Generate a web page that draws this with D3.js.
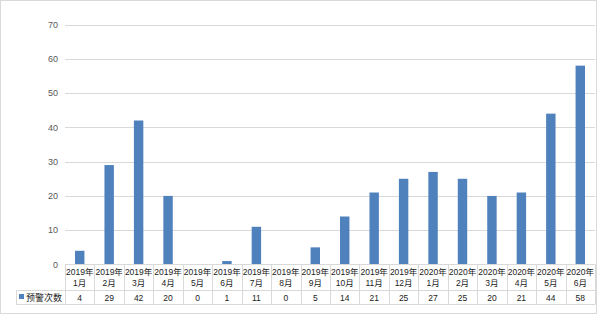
<!DOCTYPE html>
<html>
<head>
<meta charset="utf-8">
<script src="https://cdn.jsdelivr.net/npm/d3@7"></script>
<style>
  body { margin: 0; background: #fff; }
  svg text { font-family: "Liberation Sans", "Noto Sans CJK SC", sans-serif; }
</style>
</head>
<body>
<svg id="chart" width="598" height="315"></svg>
<script>
// data
const years = ['2019年','2019年','2019年','2019年','2019年','2019年','2019年','2019年','2019年','2019年','2019年','2019年','2020年','2020年','2020年','2020年','2020年','2020年'];
const months = ['1月','2月','3月','4月','5月','6月','7月','8月','9月','10月','11月','12月','1月','2月','3月','4月','5月','6月'];
const counts = [4, 29, 42, 20, 0, 1, 11, 0, 5, 14, 21, 25, 27, 25, 20, 21, 44, 58];
const seriesName = '预警次数';
const yTicks = [0, 10, 20, 30, 40, 50, 60, 70];

const svg = d3.select('#chart');
const plotLeft = 65, plotRight = 595, plotTop = 24.5, plotBottom = 264.5;
const tableMid = 290.5, tableBottom = 304.5;
const grid = '#d9d9d9';
const barColor = '#4f81bd';

// outer frame
svg.append('rect')
    .attr('x', 0.5).attr('y', 0.5)
    .attr('width', 596).attr('height', 313)
    .attr('fill', '#fff').attr('stroke', grid);

const x = d3.scaleBand()
    .domain(d3.range(counts.length))
    .range([plotLeft, plotRight])
    .paddingInner(0.68)
    .paddingOuter(0.34);
const col = d3.scaleBand()
    .domain(d3.range(counts.length))
    .range([plotLeft, plotRight]);
const y = d3.scaleLinear().domain([0, 70]).range([plotBottom, plotTop]);

// gridlines + labels
const yAxis = svg.append('g');
yAxis.selectAll('line')
    .data(yTicks.filter(d => d > 0))
    .join('line')
    .attr('x1', plotLeft).attr('x2', plotRight)
    .attr('y1', d => Math.round(y(d)) + 0.5)
    .attr('y2', d => Math.round(y(d)) + 0.5)
    .attr('stroke', grid);
yAxis.selectAll('text')
    .data(yTicks)
    .join('text')
    .attr('x', 58).attr('y', d => y(d))
    .attr('dy', '0.35em')
    .attr('text-anchor', 'end')
    .attr('font-size', 9)
    .attr('fill', '#595959')
    .text(d => d);

// bars
svg.append('g').selectAll('rect')
    .data(counts)
    .join('rect')
    .attr('x', (d, i) => x(i))
    .attr('width', x.bandwidth())
    .attr('y', d => y(d))
    .attr('height', d => y(0) - y(d))
    .attr('fill', barColor);

// data table
const table = svg.append('g').attr('stroke', grid).attr('fill', 'none');
table.append('line').attr('x1', plotLeft).attr('x2', plotRight).attr('y1', plotBottom).attr('y2', plotBottom);
table.append('line').attr('x1', 16.5).attr('x2', plotRight).attr('y1', tableMid).attr('y2', tableMid);
table.append('line').attr('x1', 16.5).attr('x2', plotRight).attr('y1', tableBottom).attr('y2', tableBottom);
table.append('line').attr('x1', 16.5).attr('x2', 16.5).attr('y1', tableMid).attr('y2', tableBottom);
table.selectAll('line.v')
    .data(d3.range(counts.length + 1))
    .join('line')
    .attr('class', 'v')
    .attr('x1', i => Math.round(plotLeft + i * col.bandwidth()) + 0.5)
    .attr('x2', i => Math.round(plotLeft + i * col.bandwidth()) + 0.5)
    .attr('y1', plotBottom).attr('y2', tableBottom);

const labels = svg.append('g')
    .attr('font-size', 8.5)
    .attr('fill', '#222')
    .attr('text-anchor', 'middle');
labels.selectAll('text.yr')
    .data(years)
    .join('text')
    .attr('class', 'yr')
    .attr('x', (d, i) => col(i) + col.bandwidth() / 2)
    .attr('y', 275)
    .text(d => d);
labels.selectAll('text.mo')
    .data(months)
    .join('text')
    .attr('class', 'mo')
    .attr('x', (d, i) => col(i) + col.bandwidth() / 2)
    .attr('y', 286)
    .text(d => d);
labels.selectAll('text.val')
    .data(counts)
    .join('text')
    .attr('class', 'val')
    .attr('x', (d, i) => col(i) + col.bandwidth() / 2)
    .attr('y', 301)
    .text(d => d);

// legend key in the table
svg.append('rect')
    .attr('x', 19).attr('y', 294)
    .attr('width', 5).attr('height', 5)
    .attr('fill', barColor);
svg.append('text')
    .attr('x', 26).attr('y', 301)
    .attr('font-size', 9)
    .attr('fill', '#222')
    .text(seriesName);
</script>
</body>
</html>
